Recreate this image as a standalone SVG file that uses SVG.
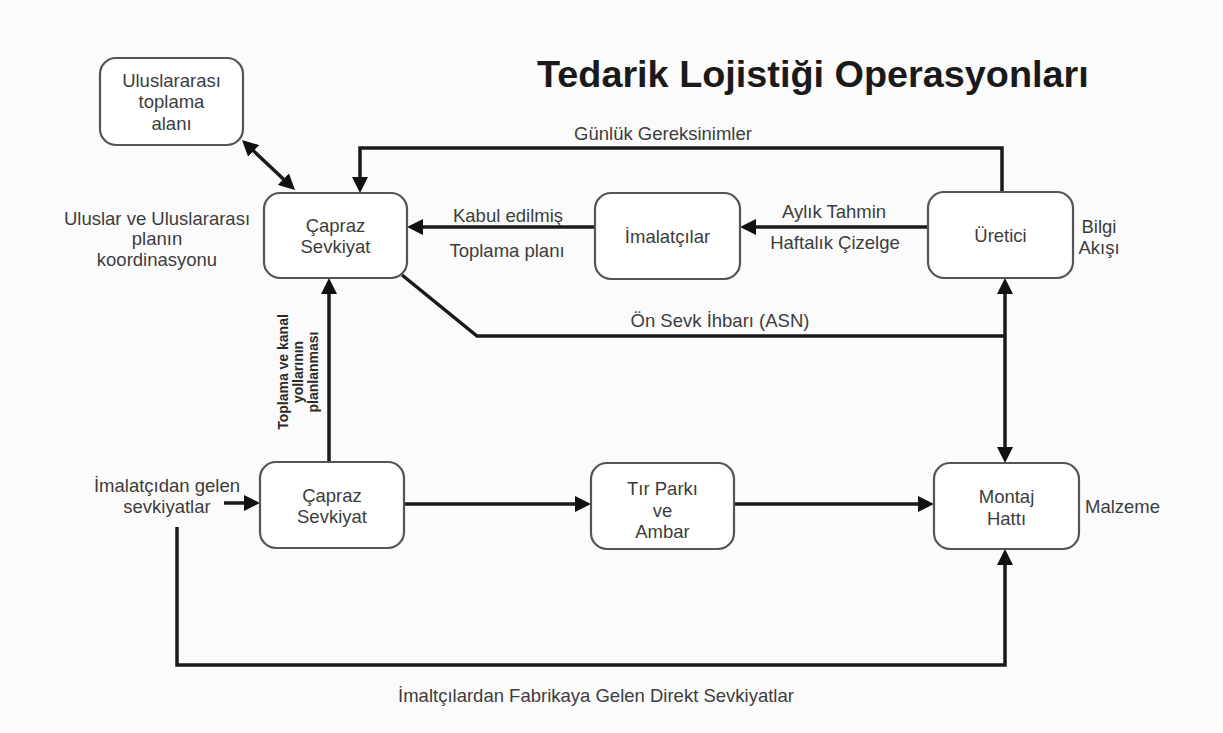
<svg xmlns="http://www.w3.org/2000/svg" width="1223" height="733" viewBox="0 0 1223 733">
<defs>
<style>
.bg{fill:#fbfbfb}
.box{fill:#ffffff;stroke:#555;stroke-width:2.2}
.t{font-family:"Liberation Sans",Arial,sans-serif;font-size:18.5px;fill:#3d3d3d}
.c{text-anchor:middle}
.title{font-family:"Liberation Sans",Arial,sans-serif;font-size:37.8px;font-weight:bold;fill:#1a1a1a}
.rot{font-family:"Liberation Sans",Arial,sans-serif;font-size:14px;font-weight:bold;fill:#2a2a2a;text-anchor:middle}
.ln{fill:none;stroke:#1a1a1a;stroke-width:3.5}
</style>
<marker id="ah" viewBox="0 0 16 16" refX="12" refY="8" markerWidth="16" markerHeight="16" markerUnits="userSpaceOnUse" orient="auto-start-reverse">
<path d="M0,0 L16,8 L0,16 z" fill="#111"/>
</marker>
</defs>
<rect class="bg" x="0" y="0" width="1223" height="733"/>

<text class="title" x="537" y="87">Tedarik Lojistiği Operasyonları</text>

<g id="connectors">
<line class="ln" x1="244.9" y1="142.7" x2="292.1" y2="187.3" marker-start="url(#ah)" marker-end="url(#ah)"/>
<path class="ln" d="M1002,192 V148 H360 V189" marker-end="url(#ah)"/>
<path class="ln" d="M595,227 H411" marker-end="url(#ah)"/>
<path class="ln" d="M928,227 H744" marker-end="url(#ah)"/>
<path class="ln" d="M402,275 L477,336 H1005"/>
<path class="ln" d="M1005,282 V459" marker-start="url(#ah)" marker-end="url(#ah)"/>
<path class="ln" d="M329,462 V282" marker-end="url(#ah)"/>
<path class="ln" d="M224,503 H256" marker-end="url(#ah)"/>
<path class="ln" d="M404,504 H587" marker-end="url(#ah)"/>
<path class="ln" d="M734,504 H930" marker-end="url(#ah)"/>
<path class="ln" d="M177,527 V665 H1005 V553" marker-end="url(#ah)"/>
</g>

<g id="labels">
<text class="t c" x="663" y="140">Günlük Gereksinimler</text>
<text class="t c" x="508" y="222">Kabul edilmiş</text>
<text class="t c" x="507" y="257">Toplama planı</text>
<text class="t c" x="834" y="218">Aylık Tahmin</text>
<text class="t c" x="835" y="249">Haftalık Çizelge</text>
<text class="t c" x="720" y="327">Ön Sevk İhbarı (ASN)</text>
<text class="t c" x="157" y="225">Uluslar ve Uluslararası</text>
<text class="t c" x="157" y="245">planın</text>
<text class="t c" x="157" y="266">koordinasyonu</text>
<text class="t c" x="1099" y="233">Bilgi</text>
<text class="t c" x="1099" y="254">Akışı</text>
<text class="t c" x="167" y="492">İmalatçıdan gelen</text>
<text class="t c" x="167" y="513">sevkiyatlar</text>
<text class="t" x="1085" y="513">Malzeme</text>
<text class="t c" x="596" y="702">İmaltçılardan Fabrikaya Gelen Direkt Sevkiyatlar</text>
<text class="rot" transform="translate(0,372) rotate(-90)"><tspan x="0" y="288">Toplama ve kanal</tspan><tspan x="0" y="303">yollarının</tspan><tspan x="0" y="318">planlanması</tspan></text>
</g>

<g id="node-uluslararasi">
<rect class="box" x="100" y="58" width="143" height="87" rx="16"/>
<text class="t c" x="171.5" y="87">Uluslararası</text>
<text class="t c" x="171.5" y="108">toplama</text>
<text class="t c" x="171.5" y="130">alanı</text>
</g>

<g id="node-capraz-top">
<rect class="box" x="264" y="193" width="143" height="85" rx="16"/>
<text class="t c" x="335.5" y="232">Çapraz</text>
<text class="t c" x="335.5" y="253">Sevkiyat</text>
</g>

<g id="node-imalatcilar">
<rect class="box" x="595" y="193" width="145" height="86" rx="16"/>
<text class="t c" x="667.5" y="243">İmalatçılar</text>
</g>

<g id="node-uretici">
<rect class="box" x="928" y="192" width="145" height="86" rx="16"/>
<text class="t c" x="1000.5" y="242">Üretici</text>
</g>

<g id="node-capraz-bottom">
<rect class="box" x="260" y="462" width="144" height="86" rx="16"/>
<text class="t c" x="332" y="502">Çapraz</text>
<text class="t c" x="332" y="523">Sevkiyat</text>
</g>

<g id="node-tir">
<rect class="box" x="591" y="463" width="143" height="86" rx="16"/>
<text class="t c" x="662.5" y="495">Tır Parkı</text>
<text class="t c" x="662.5" y="517">ve</text>
<text class="t c" x="662.5" y="538">Ambar</text>
</g>

<g id="node-montaj">
<rect class="box" x="934" y="463" width="145" height="86" rx="16"/>
<text class="t c" x="1006.5" y="503">Montaj</text>
<text class="t c" x="1006.5" y="525">Hattı</text>
</g>
</svg>
